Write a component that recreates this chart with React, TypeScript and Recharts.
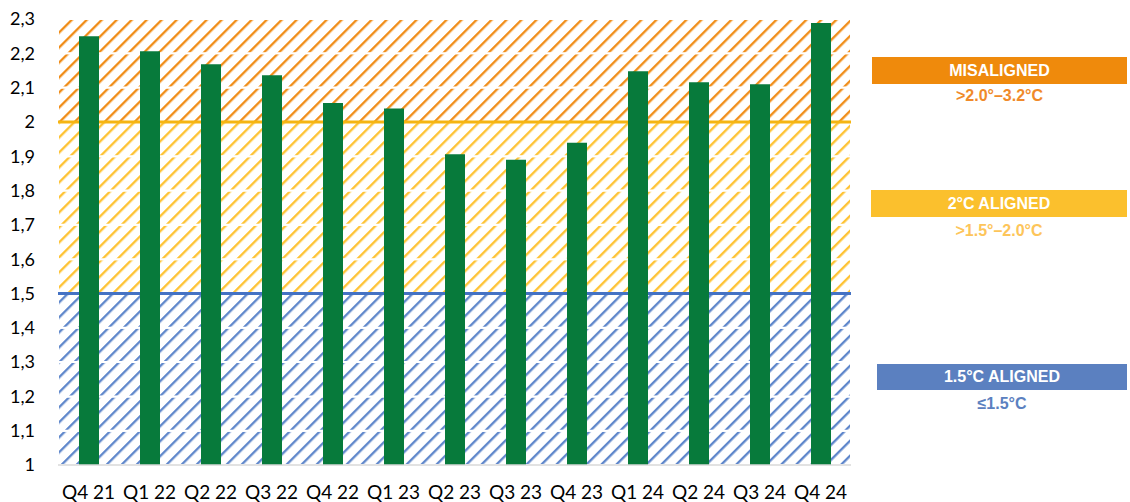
import React from "react";
import { BarChart, Bar, XAxis, YAxis, ReferenceArea, ReferenceLine } from "recharts";

const categories = ["Q4 21", "Q1 22", "Q2 22", "Q3 22", "Q4 22", "Q1 23", "Q2 23", "Q3 23", "Q4 23", "Q1 24", "Q2 24", "Q3 24", "Q4 24"];
const temperatures = [2.25, 2.206, 2.168, 2.136, 2.055, 2.039, 1.906, 1.89, 1.939, 2.148, 2.116, 2.11, 2.288];
const yTicks = [1, 1.1, 1.2, 1.3, 1.4, 1.5, 1.6, 1.7, 1.8, 1.9, 2, 2.1, 2.2, 2.3];
const yTickLabels = ["1", "1,1", "1,2", "1,3", "1,4", "1,5", "1,6", "1,7", "1,8", "1,9", "2", "2,1", "2,2", "2,3"];
const thresholds = [1.5, 2.0];

const bands = [
  { name: "1.5°C ALIGNED", sub: "≤1.5°C", from: 1, to: 1.5, color: "#5A83C9", box: "#5B80C0", subColor: "#5B80C0" },
  { name: "2°C ALIGNED", sub: ">1.5°–2.0°C", from: 1.5, to: 2.0, color: "#FEC12E", box: "#FBC02D", subColor: "#FDC55A" },
  { name: "MISALIGNED", sub: ">2.0°–3.2°C", from: 2.0, to: 2.3, color: "#F08A12", box: "#EF8A0C", subColor: "#F08A2A" },
];

const data = categories.map((c, i) => ({ name: c, value: temperatures[i] }));

const patternId = (i: number) => `hatch${i}`;

function bandFor(lo: number) {
  for (let i = 0; i < bands.length; i++) {
    if (lo >= bands[i].from - 1e-9 && lo < bands[i].to - 1e-9) return i;
  }
  return bands.length - 1;
}

const legendPos = [
  { left: 877, top: 364, width: 250, height: 26, subTop: 394 },
  { left: 871, top: 190, width: 256, height: 27, subTop: 221 },
  { left: 872, top: 57, width: 255, height: 27, subTop: 86 },
];

export default function App() {
  const segments = yTicks.slice(0, -1).map((lo, i) => ({ lo, hi: yTicks[i + 1], band: bandFor(lo) }));
  return (
    <div style={{ position: "absolute", left: 0, top: 0, width: 1130, height: 502, background: "#fff", overflow: "hidden" }}>
      <svg width={0} height={0} style={{ position: "absolute" }}>
        <defs>
          {bands.map((b, i) => (
            <pattern key={i} id={patternId(i)} patternUnits="userSpaceOnUse" width={10.6} height={10.6} patternTransform="rotate(45)">
              <rect x={0} y={0} width={10.6} height={10.6} fill="#fff" />
              <line x1={1.2} y1={0} x2={1.2} y2={10.6} stroke={b.color} strokeWidth={2.3} />
            </pattern>
          ))}
        </defs>
      </svg>
      <BarChart
        width={1130}
        height={502}
        data={data}
        margin={{ top: 19, right: 279, bottom: 0, left: 0 }}
        barSize={20}
      >
        {segments.map((s, i) => (
          <ReferenceArea
            key={i}
            y1={s.lo}
            y2={s.hi}
            fill={`url(#${patternId(s.band)})`}
            fillOpacity={1}
            stroke="#ffffff"
            strokeWidth={2}
            ifOverflow="hidden"
            zIndex={-50}
          />
        ))}
        <ReferenceLine y={thresholds[1]} stroke="#F5B512" strokeWidth={3} zIndex={100} />
        <ReferenceLine y={thresholds[0]} stroke="#4472C4" strokeWidth={3} zIndex={100} />
        <XAxis
          dataKey="name"
          interval={0}
          tickLine={false}
          axisLine={{ stroke: "#D9D9D9", strokeWidth: 1.5 }}
          tickMargin={15}
          height={37}
          tick={{ fontSize: 19, fill: "#000", fontFamily: "Lato" }}
        />
        <YAxis
          domain={[1, 2.3]}
          ticks={yTicks}
          interval={0}
          width={58}
          axisLine={false}
          tickLine={false}
          tickMargin={17}
          tickFormatter={(v: number) => yTickLabels[yTicks.findIndex((t) => Math.abs(t - v) < 1e-6)] ?? String(v)}
          tick={{ fontSize: 18, fill: "#000", fontFamily: "Lato" }}
        />
        <Bar dataKey="value" fill="#077A3B" isAnimationActive={false} zIndex={300} />
      </BarChart>
      {bands.map((b, i) => {
        const p = legendPos[i];
        return (
          <React.Fragment key={i}>
            <div
              style={{
                position: "absolute",
                left: p.left,
                top: p.top,
                width: p.width,
                height: p.height,
                background: b.box,
                color: "#fff",
                fontFamily: "Liberation Sans, Arial, sans-serif",
                fontWeight: 700,
                fontSize: 16,
                lineHeight: `${p.height}px`,
                textAlign: "center",
              }}
            >
              {b.name}
            </div>
            <div
              style={{
                position: "absolute",
                left: p.left,
                top: p.subTop,
                width: p.width,
                color: b.subColor,
                fontFamily: "Liberation Sans, Arial, sans-serif",
                fontWeight: 700,
                fontSize: 16,
                lineHeight: "20px",
                textAlign: "center",
              }}
            >
              {b.sub}
            </div>
          </React.Fragment>
        );
      })}
    </div>
  );
}
